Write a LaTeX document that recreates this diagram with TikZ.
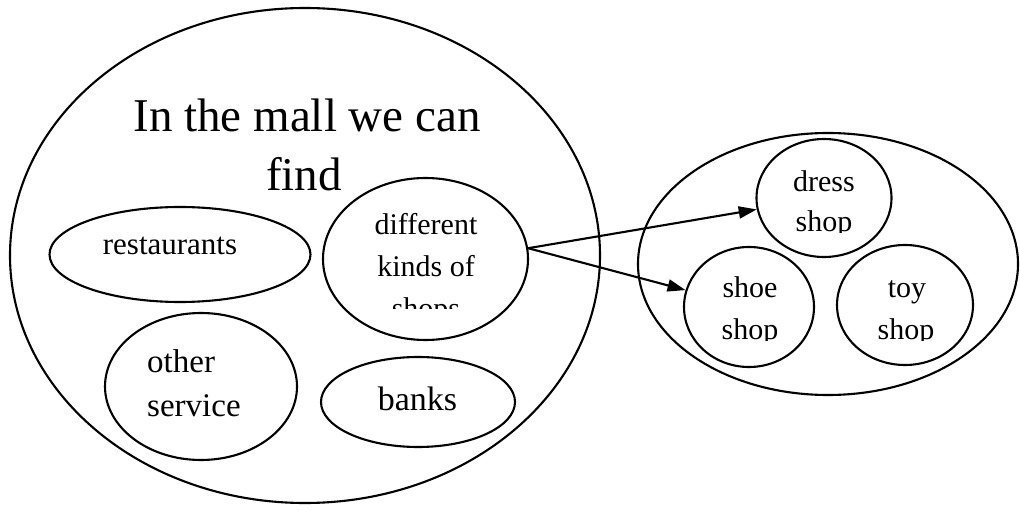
\documentclass[tikz,border=0pt]{standalone}
\usepackage{fontspec}
\setmainfont{Liberation Serif}
\usetikzlibrary{shapes.geometric,arrows.meta}
\newcommand\fsz[2]{\fontsize{#1}{#2}\selectfont}
\begin{document}
\begin{tikzpicture}[x=1pt,y=-1pt,
  bubble/.style={draw, ellipse, line width=2.1pt, inner sep=0pt},
  lbl/.style={anchor=base, inner sep=0pt},
  lblw/.style={anchor=base west, inner sep=0pt},
  link/.style={line width=2.1pt, -{Triangle[length=18pt,width=12pt]}}]
\useasboundingbox (0,0) rectangle (1020,510);

% outer groups
\node[bubble, minimum width=590pt, minimum height=495pt] (mall) at (305,255.5) {};
\node[bubble, minimum width=380pt, minimum height=262pt] (shops) at (828,264) {};

% title
\node[lbl, font=\fsz{47}{56}] (title1) at (307,132) {In the mall we can};
\node[lbl, font=\fsz{47}{56}] (title2) at (304,191) {find};

% places in the mall
\node[bubble, minimum width=261pt, minimum height=95pt] (rest) at (180,254.5) {};
\node[lbl, font=\fsz{31}{36}] (restT) at (170,255) {restaurants};

\node[bubble, minimum width=205pt, minimum height=162pt] (diff) at (425.5,259) {};
\node[lbl, font=\fsz{30}{36}] (diffA) at (426,235) {different};
\node[lbl, font=\fsz{30}{36}] (diffB) at (426,277) {kinds of};
\begin{scope}
  \clip (300,280) rectangle (560,309);
  \node[lbl, font=\fsz{30}{36}] (diffC) at (426,319) {shops};
\end{scope}

\node[bubble, minimum width=192pt, minimum height=147pt] (other) at (201,386.5) {};
\node[lblw, font=\fsz{33}{40}] (otherA) at (147,373) {other};
\node[lblw, font=\fsz{33}{40}] (otherB) at (147,417) {service};

\node[bubble, minimum width=194pt, minimum height=90pt] (banks) at (418,402) {};
\node[lbl, font=\fsz{34}{40}] (banksT) at (417.5,410) {banks};

% kinds of shops
\node[bubble, minimum width=135pt, minimum height=118pt] (dress) at (824,198) {};
\node[lbl, font=\fsz{30}{36}] (dressA) at (824,192) {dress};
\begin{scope}
  \clip (750,200) rectangle (900,233);
  \node[lbl, font=\fsz{30}{36}] (dressB) at (824,232) {shop};
\end{scope}

\node[bubble, minimum width=130pt, minimum height=120pt] (shoe) at (749,307) {};
\node[lbl, font=\fsz{30}{36}] (shoeA) at (750,298) {shoe};
\begin{scope}
  \clip (680,305) rectangle (820,341);
  \node[lbl, font=\fsz{30}{36}] (shoeB) at (750,340) {shop};
\end{scope}

\node[bubble, minimum width=136pt, minimum height=120pt] (toy) at (905,305) {};
\node[lbl, font=\fsz{30}{36}] (toyA) at (907,298) {toy};
\begin{scope}
  \clip (840,305) rectangle (980,341);
  \node[lbl, font=\fsz{30}{36}] (toyB) at (906,340) {shop};
\end{scope}

% connectors
\coordinate (fork) at (diff.6);
\draw[link] (fork) -- (dress);
\draw[link] (fork) -- (shoe);
\end{tikzpicture}
\end{document}
